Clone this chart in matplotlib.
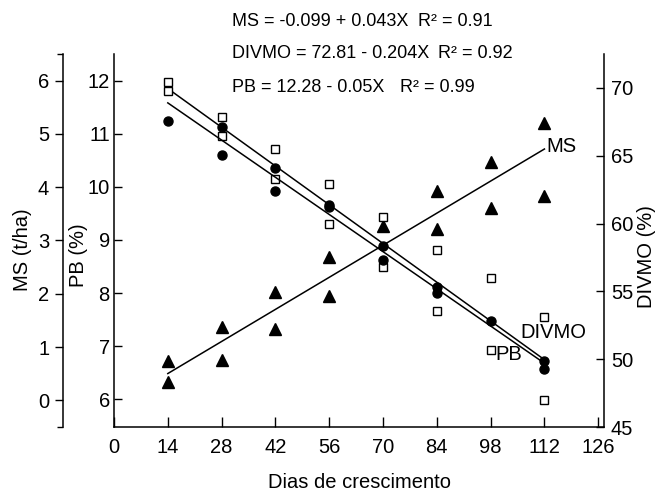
import matplotlib
matplotlib.use("Agg")
import matplotlib.pyplot as plt
import numpy as np

plt.rcParams['font.family'] = ['Liberation Sans', 'DejaVu Sans']

# Data
dias = [14, 28, 42, 56, 70, 84, 98, 112]
x_ticks = [0, 14, 28, 42, 56, 70, 84, 98, 112, 126]

# PB (%) - filled circles (two replicates where visible)
pb_x = [14, 28, 28, 42, 42, 56, 56, 70, 70, 84, 84, 98, 112, 112]
pb_y = [11.23, 11.13, 10.59, 10.36, 9.93, 9.65, 9.62, 8.88, 8.63, 8.11, 8.01, 7.47, 6.73, 6.58]

# DIVMO (%) - open squares
dv_x = [14, 14, 28, 28, 42, 42, 56, 56, 70, 70, 84, 84, 98, 98, 112, 112]
dv_y = [70.45, 69.78, 67.85, 66.44, 65.47, 63.25, 62.95, 59.99, 60.5, 56.8,
        58.06, 53.53, 55.98, 50.7, 53.1, 47.0]

# MS (t/ha) - filled triangles
ms_x = [14, 14, 28, 28, 42, 42, 56, 56, 70, 84, 84, 98, 98, 112, 112]
ms_y = [0.73, 0.34, 1.38, 0.75, 2.04, 1.33, 2.69, 1.96, 3.27, 3.93, 3.21, 4.47, 3.61, 5.20, 3.83]

# Regressions
ms_a, ms_b = -0.099, 0.043
dv_a, dv_b = 72.81, -0.204
pb_a, pb_b = 12.28, -0.05

ms_ticks = [0, 1, 2, 3, 4, 5, 6]
pb_ticks = [6, 7, 8, 9, 10, 11, 12]
dv_ticks = [45, 50, 55, 60, 65, 70]

fig = plt.figure(figsize=(6.64, 5.0), dpi=100)
L, R, B, T = 114/664, 604/664, 1-427/500, 1-54/500
ax = fig.add_axes([L, B, R-L, T-B])
ax_ms = ax.twinx()
ax_dv = ax.twinx()

fs = 14.5
lw = 1.1
xl = np.array([14, 112])

# PB axis (main)
ax.set_xlim(0, 127.5)
ax.set_ylim(5.48, 12.5)
ax.set_xticks(x_ticks)
ax.set_yticks(pb_ticks)
ax.tick_params(axis='x', direction='in', length=7, width=1, pad=8, labelsize=fs)
ax.tick_params(axis='y', direction='in', length=6, width=1, pad=3, labelsize=fs)
for s in ['top', 'right']:
    ax.spines[s].set_visible(False)

# MS axis (offset left)
ax_ms.set_ylim(-0.5, 6.5)
ax_ms.yaxis.set_ticks_position('left')
ax_ms.spines['left'].set_position(('axes', -0.104))
for s in ['top', 'right', 'bottom']:
    ax_ms.spines[s].set_visible(False)
ax_ms.spines['left'].set_visible(True)
ax_ms.set_yticks(ms_ticks)
ax_ms.set_yticks([-0.5, 6.5], minor=True)
ax_ms.tick_params(axis='y', which='major', direction='out', length=6, width=1, pad=4, labelsize=fs)
ax_ms.tick_params(axis='y', which='minor', direction='out', length=4, width=1)

# DIVMO axis (right)
ax_dv.set_ylim(45, 72.5)
ax_dv.set_yticks(dv_ticks)
for s in ['top', 'left', 'bottom']:
    ax_dv.spines[s].set_visible(False)
ax_dv.tick_params(axis='y', direction='in', length=6, width=1, pad=5, labelsize=fs)

for a in [ax, ax_ms, ax_dv]:
    for s in a.spines.values():
        s.set_linewidth(1.1)

# Lines
ax_ms.plot(xl, ms_a + ms_b * xl, color='black', lw=lw)
ax_dv.plot(xl, dv_a + dv_b * xl, color='black', lw=lw)
ax.plot(xl, pb_a + pb_b * xl, color='black', lw=lw)

# Points
ax_ms.plot(ms_x, ms_y, linestyle='none', marker='^', color='black', markersize=8)
ax_dv.plot(dv_x, dv_y, linestyle='none', marker='s', markerfacecolor='white',
           markeredgecolor='black', markeredgewidth=1.0, markersize=5.5)
ax.plot(pb_x, pb_y, linestyle='none', marker='o', color='black', markersize=6.5)
ax.set_zorder(3); ax.patch.set_visible(False)
ax_dv.set_zorder(2); ax_dv.patch.set_visible(False)
ax_ms.set_zorder(1)

# Line labels
fig.text(546/664, 1-147/500, 'MS', fontsize=fs, va='center', ha='left')
fig.text(520/664, 1-332/500, 'DIVMO', fontsize=fs, va='center', ha='left')
fig.text(495/664, 1-355/500, 'PB', fontsize=fs, va='center', ha='left')

# Equations
eq_fs = 13
fig.text(232/664, 1-22/500, 'MS = -0.099 + 0.043X', fontsize=eq_fs, va='center', ha='left')
fig.text(418/664, 1-22/500, 'R² = 0.91', fontsize=eq_fs, va='center', ha='left')
fig.text(232/664, 1-53/500, 'DIVMO = 72.81 - 0.204X', fontsize=eq_fs, va='center', ha='left')
fig.text(438/664, 1-53/500, 'R² = 0.92', fontsize=eq_fs, va='center', ha='left')
fig.text(232/664, 1-88/500, 'PB = 12.28 - 0.05X', fontsize=eq_fs, va='center', ha='left')
fig.text(400/664, 1-88/500, 'R² = 0.99', fontsize=eq_fs, va='center', ha='left')

# Axis labels
fig.text(23/664, 1-250/500, 'MS (t/ha)', fontsize=fs, rotation=90, va='center', ha='center')
fig.text(79/664, 1-255/500, 'PB (%)', fontsize=fs, rotation=90, va='center', ha='center')
fig.text(646/664, 1-257/500, 'DIVMO (%)', fontsize=fs, rotation=90, va='center', ha='center')
fig.text(360/664, 1-483/500, 'Dias de crescimento', fontsize=fs, va='center', ha='center')

fig.savefig('out.png', dpi=100)
